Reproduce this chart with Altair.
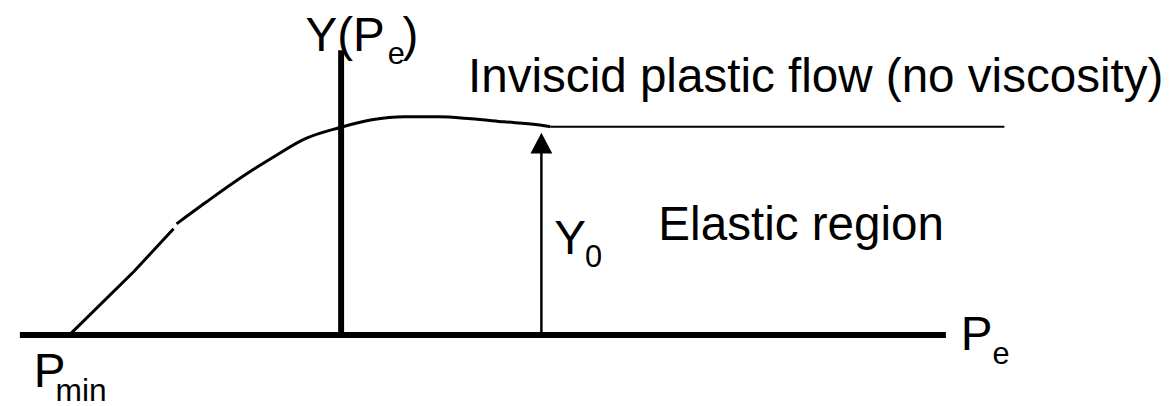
import altair as alt
import pandas as pd

# ---- data (x: along P_e, y: height above the P_e axis) ----
axis_x = [15, 949]
axis_y = [0, 0]

yaxis_x = [339, 339]
yaxis_y = [3, 287]

seg1_x = [65, 130, 170]
seg1_y = [0, 64, 107]

seg2_x = [173, 203, 237, 270, 303, 337, 370, 403, 437, 470, 503, 537, 550]
seg2_y = [112, 134, 158, 179, 198, 209, 217, 220, 220, 218, 215, 212, 210]

flat_x = [550, 1008]
flat_y = [210, 210]

arrow_x = [541, 541]
arrow_y = [2, 185]
head_x = [541]
head_y = [193.5]

label_text = ["Y(P", "e", ")", "Inviscid plastic flow (no viscosity)", "Elastic region",
              "Y", "0", "P", "min", "P", "e"]
label_x = [303, 386, 401, 467, 659, 554, 585, 29, 51, 964, 996]
label_y = [286, 273, 286, 245, 96, 82, 68, -53, -67, -15, -29]
label_size = [48, 31, 48, 48, 48, 48, 31, 48, 32, 48, 31]

X_DOMAIN = [8, 1164]
Y_DOMAIN = [-62, 328]
xs = alt.Scale(domain=X_DOMAIN)
ys = alt.Scale(domain=Y_DOMAIN)


def xy(df_x, df_y):
    return pd.DataFrame({"x": df_x, "y": df_y, "o": list(range(len(df_x)))})


def line_layer(xv, yv, width, interp="linear"):
    return alt.Chart(xy(xv, yv)).mark_line(
        color="black", strokeWidth=width, interpolate=interp, clip=False
    ).encode(
        x=alt.X("x:Q", scale=xs, axis=None),
        y=alt.Y("y:Q", scale=ys, axis=None),
        order="o:Q",
    )


h_axis = line_layer(axis_x, axis_y, 6)
v_axis = line_layer(yaxis_x, yaxis_y, 6)
curve1 = line_layer(seg1_x, seg1_y, 3)
curve2 = line_layer(seg2_x, seg2_y, 3, "monotone")
flat = line_layer(flat_x, flat_y, 2)
shaft = line_layer(arrow_x, arrow_y, 2.5)

head = alt.Chart(xy(head_x, head_y)).mark_point(
    shape="M0,-0.95L1,0.95L-1,0.95Z", filled=True, size=484, color="black", opacity=1
).encode(
    x=alt.X("x:Q", scale=xs, axis=None),
    y=alt.Y("y:Q", scale=ys, axis=None),
)

labels_df = pd.DataFrame({"t": label_text, "x": label_x, "y": label_y, "s": label_size})
labels = alt.Chart(labels_df).mark_text(
    align="left", baseline="alphabetic", font="Liberation Sans", color="black"
).encode(
    x=alt.X("x:Q", scale=xs, axis=None),
    y=alt.Y("y:Q", scale=ys, axis=None),
    text="t:N",
    size=alt.Size("s:Q", scale=None, legend=None),
)

chart = alt.layer(h_axis, v_axis, curve1, curve2, flat, shaft, head, labels).properties(
    width=1156, height=390, padding=0
).configure_view(stroke=None)

chart.save("out.html", embed_options={"renderer": "svg", "actions": False})
